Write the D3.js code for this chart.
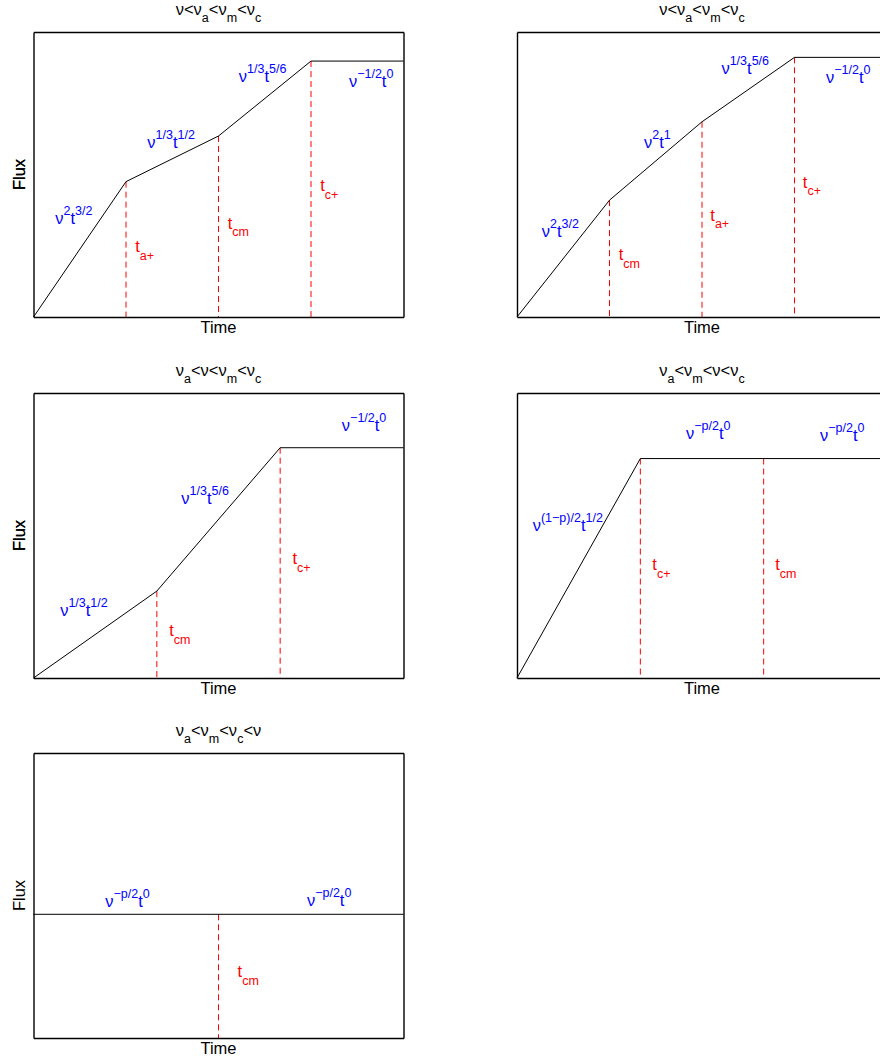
<!DOCTYPE html>
<html>
<head>
<meta charset="utf-8">
<script src="https://cdn.jsdelivr.net/npm/d3@7/dist/d3.min.js"></script>
<style>
  html, body { margin: 0; padding: 0; background: #fff; }
  svg { display: block; font-family: "Liberation Sans", Arial, Helvetica, sans-serif; }
</style>
</head>
<body>
<svg id="chart" width="880" height="1061"></svg>
<script>
// Spectral regimes, one panel each
const titles = [
  "ν<ν_{a}<ν_{m}<ν_{c}",
  "ν<ν_{a}<ν_{m}<ν_{c}",
  "ν_{a}<ν<ν_{m}<ν_{c}",
  "ν_{a}<ν_{m}<ν<ν_{c}",
  "ν_{a}<ν_{m}<ν_{c}<ν"
];

// Time span of each panel (arbitrary units)
const timeMax = [4, 4, 3, 3, 2];

// Broken power-law light curves: break times and relative flux levels
const curveTimes = [
  [0, 1, 2, 3, 4],
  [0, 1, 2, 3, 4],
  [0, 1, 2, 3],
  [0, 1, 3],
  [0, 2]
];
const curveFlux = [
  [0, 0.475, 0.635, 0.898, 0.898],
  [0, 0.41, 0.685, 0.911, 0.911],
  [0, 0.305, 0.808, 0.808],
  [0, 0.77, 0.77],
  [0.434, 0.434]
];

// Characteristic times marked by dashed lines
const breakTimes = [[1, 2, 3], [1, 2, 3], [1, 2], [1, 2], [1]];
const breakNames = [
  ["t_{a+}", "t_{cm}", "t_{c+}"],
  ["t_{cm}", "t_{a+}", "t_{c+}"],
  ["t_{cm}", "t_{c+}"],
  ["t_{c+}", "t_{cm}"],
  ["t_{cm}"]
];

// Scaling of each segment: ν and t exponents
const segmentLabels = [
  ["ν^{2}t^{3/2}", "ν^{1/3}t^{1/2}", "ν^{1/3}t^{5/6}", "ν^{−1/2}t^{0}"],
  ["ν^{2}t^{3/2}", "ν^{2}t^{1}", "ν^{1/3}t^{5/6}", "ν^{−1/2}t^{0}"],
  ["ν^{1/3}t^{1/2}", "ν^{1/3}t^{5/6}", "ν^{−1/2}t^{0}"],
  ["ν^{(1−p)/2}t^{1/2}", "ν^{−p/2}t^{0}", "ν^{−p/2}t^{0}"],
  ["ν^{−p/2}t^{0}", "ν^{−p/2}t^{0}"]
];

// Anchor points (time, flux) for the segment labels and break-time labels
const segmentAnchors = [
  [[0.235, 0.326], [1.23, 0.593], [2.22, 0.825], [3.41, 0.807]],
  [[0.267, 0.281], [1.373, 0.593], [2.21, 0.853], [3.34, 0.821]],
  [[0.216, 0.216], [1.198, 0.609], [2.50, 0.866]],
  [[0.127, 0.515], [1.37, 0.838], [2.457, 0.832]],
  [[0.388, 0.46], [1.478, 0.462]]
];
const breakAnchors = [
  [[1.10, 0.228], [2.10, 0.309], [3.10, 0.442]],
  [[1.10, 0.200], [2.09, 0.337], [3.09, 0.453]],
  [[1.10, 0.146], [2.10, 0.399]],
  [[1.097, 0.378], [2.094, 0.378]],
  [[1.103, 0.213]]
];

// ---- layout ----
const panelOrigins = [[33.5, 32], [517, 32], [33.5, 393], [517, 393], [33.5, 753]];
const PW = 370, PH = 285;

const svg = d3.select("#chart");

// Writes "base^{sup}" / "base_{sub}" markup as tspans
function richText(sel, str, baseSize, smallSize, shiftUp, shiftDown) {
  const re = /(\^|_)\{([^}]*)\}|([^\^_]+)/g;
  let m, cur = 0;
  while ((m = re.exec(str)) !== null) {
    let txt, size, target;
    if (m[3] !== undefined) { txt = m[3]; size = baseSize; target = 0; }
    else if (m[1] === "^") { txt = m[2]; size = smallSize; target = -shiftUp; }
    else { txt = m[2]; size = smallSize; target = shiftDown; }
    sel.append("tspan")
      .attr("dy", target - cur)
      .attr("font-size", size)
      .text(txt);
    cur = target;
  }
}

panelOrigins.forEach((o, i) => {
  const g = svg.append("g").attr("transform", `translate(${o[0]},${o[1]})`);
  const x = d3.scaleLinear().domain([0, timeMax[i]]).range([0, PW]);
  const y = d3.scaleLinear().domain([0, 1]).range([PH, 0]);
  const fluxAt = d3.scaleLinear().domain(curveTimes[i]).range(curveFlux[i]).clamp(true);

  // dashed markers from the curve down to the time axis
  g.selectAll("line.brk")
    .data(breakTimes[i])
    .join("line")
    .attr("class", "brk")
    .attr("x1", d => x(d)).attr("x2", d => x(d))
    .attr("y1", d => y(fluxAt(d))).attr("y2", y(0))
    .attr("stroke", "#ff0000")
    .attr("stroke-width", 1)
    .attr("stroke-dasharray", "6,4");

  // light curve
  const pts = curveTimes[i].map((t, k) => [t, curveFlux[i][k]]);
  g.append("path")
    .datum(pts)
    .attr("fill", "none")
    .attr("stroke", "#000")
    .attr("stroke-width", 1)
    .attr("d", d3.line().x(d => x(d[0])).y(d => y(d[1])));

  // box axes without ticks
  const axes = [
    [d3.axisBottom(x), `translate(0,${PH})`],
    [d3.axisTop(x), null],
    [d3.axisLeft(y), null],
    [d3.axisRight(y), `translate(${PW},0)`]
  ];
  axes.forEach(([ax, tr]) => {
    const a = g.append("g").call(ax.tickValues([]).tickSizeOuter(0));
    if (tr) a.attr("transform", tr);
    a.select(".domain").attr("stroke", "#000").attr("stroke-width", 1.4);
  });

  // title
  const ttl = g.append("text")
    .attr("x", PW / 2).attr("y", -17)
    .attr("text-anchor", "middle")
    .attr("fill", "#000");
  richText(ttl, titles[i], 16.5, 12.5, 7, 7);

  // axis labels
  g.append("text")
    .attr("x", PW / 2).attr("y", PH + 16)
    .attr("text-anchor", "middle")
    .attr("font-size", 16.5)
    .attr("fill", "#000")
    .text("Time");
  g.append("text")
    .attr("transform", `translate(${24.5 - o[0]},${PH / 2}) rotate(-90)`)
    .attr("text-anchor", "middle")
    .attr("font-size", 16.5)
    .attr("fill", "#000")
    .text("Flux");

  // segment scaling labels
  segmentLabels[i].forEach((lab, k) => {
    const a = segmentAnchors[i][k];
    const t = g.append("text")
      .attr("x", x(a[0])).attr("y", y(a[1]))
      .attr("fill", "#0000ff");
    richText(t, lab, 16.5, 12.5, 9, 6);
  });

  // break-time labels
  breakNames[i].forEach((lab, k) => {
    const a = breakAnchors[i][k];
    const t = g.append("text")
      .attr("x", x(a[0])).attr("y", y(a[1]))
      .attr("fill", "#ff0000");
    richText(t, lab, 16.5, 12.5, 8, 7.5);
  });
});
</script>
</body>
</html>
